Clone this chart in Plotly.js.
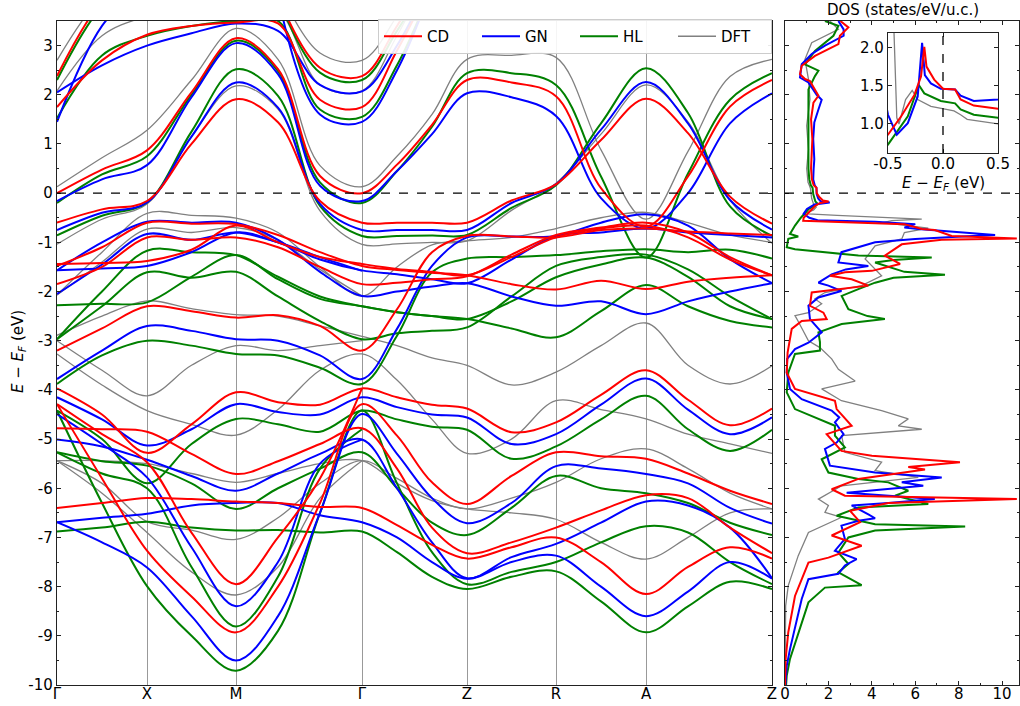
<!DOCTYPE html>
<html><head><meta charset="utf-8">
<script src="https://cdn.plot.ly/plotly-3.0.1.min.js"></script>
<style>html,body{margin:0;padding:0;background:#fff}#plot{width:1020px;height:706px}</style>
</head><body><div id="plot"></div>
<script>
// k-path sample positions and labels
const K = [0, 0.45, 0.90, 1.345, 1.79, 2.21, 2.63, 3.05, 3.40, 3.75, 4.10, 4.545, 4.99, 5.44, 5.89, 6.31, 6.73, 7.15];
const kTickVals = [0, 0.90, 1.79, 3.05, 4.10, 4.99, 5.89, 7.15];
const kTickText = ['Γ','X','M','Γ','Z','R','A','Z'];
const N = null;

// CD (red) bands
const CD_H1 = [2.38, 3.9, 4.6, N, N, 4.0, 2.55, 2.38, 3.4, 4.6, N, N, N, N, N, N, N, N];
const CD_H2 = [1.75, 2.7, 3.22, 3.4, 3.47, 3.45, 1.9, 1.75, 2.9, 4.3, N, N, N, N, N, N, N, N];
const CD_CB1 = [0.0, 0.48, 0.87, 2.05, 3.15, 2.52, 0.35, 0.0, 0.58, 1.39, 2.3, 2.25, 1.97, 0.1, -0.68, 0.34, 1.76, 2.3];
const CD_VB1 = [-0.6, -0.33, -0.16, 1.0, 1.91, 1.44, -0.16, -0.6, -0.6, -0.6, -0.6, -0.15, 0.18, 1.08, 1.92, 1.22, -0.07, -0.62];
const CD_V1 = [-1.44, -1.42, -1.38, -1.15, -0.66, -1.0, -1.3, -1.44, -1.54, -1.6, -1.67, -1.3, -0.9, -0.72, -0.66, -0.9, -1.35, -1.67];
const CD_V2 = [-1.48, -1.1, -0.6, -0.62, -0.63, -0.85, -1.2, -1.48, -1.56, -1.62, -1.67, -1.85, -1.96, -1.78, -1.95, -1.8, -1.72, -1.67];
const CD_V3 = [-1.85, -1.5, -0.9, -0.95, -0.9, -1.1, -1.5, -1.85, -1.82, -1.75, -1.69, -1.25, -0.85, -0.7, -0.6, -0.8, -1.3, -1.67];
const CD_V4 = [-3.2, -2.75, -2.3, -2.4, -2.53, -2.48, -2.7, -3.2, -2.36, -1.2, -0.87, -0.88, -0.9, -0.75, -0.72, -0.78, -0.82, -0.85];
const CD_V5 = [-3.97, -4.5, -5.28, -4.7, -4.05, -4.25, -4.3, -3.97, -4.15, -4.3, -4.38, -4.86, -4.66, -4.1, -3.6, -4.2, -4.72, -4.38];
const CD_V6 = [-4.78, -4.8, -4.85, -5.3, -5.71, -5.45, -5.1, -4.78, -5.6, -6.8, -7.32, -7.1, -6.8, -6.45, -6.14, -6.2, -6.8, -7.32];
const CD_V7 = [-4.29, -5.8, -7.27, -8.2, -8.93, -8.0, -6.3, -4.29, -4.93, -5.88, -6.32, -5.75, -5.27, -5.35, -5.4, -5.7, -6.05, -6.32];
const CD_V8 = [-6.4, -6.3, -6.2, -6.22, -6.27, -6.3, -6.38, -6.4, -6.75, -7.15, -7.43, -7.2, -7.0, -7.5, -8.15, -7.6, -7.2, -7.43];
const CD_V9 = [-4.29, -4.9, -5.47, -6.9, -7.95, -7.0, -5.8, -3.97, N, N, N, N, N, N, N, N, N, N];

// GN (blue) bands
const GN_H1 = [1.45, 3.4, 4.3, N, N, 4.0, 1.6, 1.45, 2.5, 4.2, N, N, N, N, N, N, N, N];
const GN_H2 = [2.05, 2.6, 3.0, 3.25, 3.45, 3.3, 2.2, 2.07, 3.0, 4.4, N, N, N, N, N, N, N, N];
const GN_CB1 = [-0.16, 0.28, 0.57, 1.95, 3.05, 2.42, 0.15, -0.16, 0.45, 1.2, 2.03, 1.95, 1.57, -0.1, -0.72, 0.0, 1.42, 2.03];
const GN_VB1 = [-0.75, -0.4, -0.19, 1.15, 2.25, 1.74, -0.22, -0.75, -0.75, -0.75, -0.75, -0.2, 0.18, 1.29, 2.26, 1.42, -0.14, -0.74];
const GN_V1 = [-1.57, -1.53, -1.48, -1.2, -0.8, -1.0, -1.35, -1.57, -1.65, -1.75, -1.83, -1.35, -0.87, -0.8, -0.72, -0.8, -0.85, -0.9];
const GN_V2 = [-1.57, -1.0, -0.58, -0.6, -0.6, -0.95, -1.6, -2.09, -2.0, -1.9, -1.83, -2.1, -2.29, -2.2, -2.46, -2.2, -2.0, -1.83];
const GN_V3 = [-2.05, -1.45, -0.83, -0.95, -0.8, -1.0, -1.3, -1.58, N, N, N, N, N, N, N, N, N, N];
const GN_V4 = [-3.78, -3.2, -2.7, -2.8, -2.97, -3.0, -3.3, -3.78, -2.76, -1.48, -0.9, -0.88, -0.87, -0.6, -0.43, -0.66, -1.34, -1.83];
const GN_V5 = [-4.15, -4.6, -5.13, -4.8, -4.29, -4.45, -4.5, -4.15, -4.35, -4.5, -4.56, -5.1, -4.9, -4.3, -3.77, -4.4, -4.9, -4.56];
const GN_V6 = [-5.01, -5.15, -5.42, -5.75, -6.05, -5.7, -5.3, -5.01, -6.0, -7.1, -7.83, -7.4, -7.13, -6.7, -6.27, -6.35, -6.8, -7.83];
const GN_V7 = [-6.69, -6.6, -6.52, -6.35, -6.3, -6.3, -6.55, -6.69, -7.0, -7.5, -7.84, -7.5, -7.37, -8.0, -8.6, -8.1, -7.5, -7.84];
const GN_V8 = [-6.69, -7.1, -7.61, -8.6, -9.5, -8.6, -6.5, -4.49, -5.3, -6.2, -6.71, -6.3, -5.55, -5.6, -5.71, -5.9, -6.4, -6.72];
const GN_V9 = [-4.49, -5.1, -5.78, -7.2, -8.4, -7.5, -5.5, -5.01, N, N, N, N, N, N, N, N, N, N];

// HL (green) bands
const HL_H1 = [2.3, 3.8, 4.5, N, N, 4.0, 2.45, 2.3, 3.3, 4.5, N, N, N, N, N, N, N, N];
const HL_H2 = [1.52, 2.8, 3.2, 3.4, 3.5, 3.5, 1.7, 1.55, 2.6, 4.2, N, N, N, N, N, N, N, N];
const HL_CB1 = [-0.2, 0.38, 0.75, 2.0, 3.1, 2.48, 0.22, -0.2, 0.45, 1.35, 2.44, 2.44, 2.2, 0.34, -1.31, 0.4, 1.9, 2.44];
const HL_VB1 = [-0.86, -0.46, -0.19, 1.25, 2.52, 1.98, -0.26, -0.87, -0.87, -0.86, -0.85, -0.3, 0.16, 1.42, 2.54, 1.63, -0.27, -0.87];
const HL_V1 = [-2.97, -2.0, -1.17, -1.2, -1.26, -1.7, -2.1, -2.3, -2.42, -2.5, -2.56, -2.75, -2.93, -2.4, -1.87, -2.3, -2.6, -2.73];
const HL_V2 = [-2.97, -2.3, -1.61, -1.72, -1.6, -2.1, -2.6, -2.97, -2.85, -2.8, -2.73, -2.1, -1.48, -1.3, -1.25, -1.55, -2.1, -2.56];
const HL_V3 = [-2.28, -2.25, -2.22, -1.7, -1.26, -1.75, -2.15, -2.3, -2.42, -2.5, -2.56, -2.2, -1.71, -1.45, -1.31, -1.7, -2.3, -2.56];
const HL_V4 = [-3.88, -3.3, -3.0, -3.1, -3.27, -3.3, -3.55, -3.88, -2.9, -1.61, -1.33, -1.3, -1.26, -1.18, -1.14, -1.2, -1.15, -1.33];
const HL_V5 = [-4.42, -5.0, -5.9, -5.1, -4.59, -4.7, -4.85, -4.42, -4.6, -4.75, -4.81, -5.4, -5.15, -4.6, -4.12, -4.8, -5.24, -4.81];
const HL_V6 = [-5.27, -5.45, -5.54, -5.9, -6.42, -6.0, -5.6, -5.27, -6.0, -6.7, -6.95, -6.4, -5.75, -6.0, -6.1, -6.3, -6.7, -6.95];
const HL_V7 = [-6.88, -6.8, -6.68, -6.8, -6.86, -6.85, -6.9, -6.88, -7.3, -7.8, -8.05, -7.8, -7.69, -8.3, -8.93, -8.4, -7.9, -8.05];
const HL_V8 = [-4.42, -6.3, -7.99, -9.0, -9.71, -8.9, -6.5, -4.42, -5.9, -7.3, -7.95, -7.7, -7.5, -7.1, -6.77, -6.9, -7.5, -7.95];
const HL_V9 = [-5.27, -5.7, -6.0, -7.6, -8.81, -7.8, -5.6, -4.8, N, N, N, N, N, N, N, N, N, N];

// DFT (gray) bands
const DFT_H1 = [2.7, 4.0, 4.6, N, N, 4.2, 2.85, 2.7, 3.6, 4.8, N, N, N, N, N, N, N, N];
const DFT_H2 = [2.08, 3.2, 3.6, 3.8, 3.8, 3.7, 2.2, 2.08, 3.2, 4.6, N, N, N, N, N, N, N, N];
const DFT_CB1 = [0.13, 0.72, 1.28, 2.3, 3.35, 2.72, 0.56, 0.13, 0.75, 1.6, 2.72, 2.8, 2.76, 0.88, -0.53, 0.85, 2.37, 2.72];
const DFT_VB1 = [-1.04, -0.53, -0.22, 1.15, 2.18, 1.71, -0.36, -1.04, -1.03, -1.0, -0.97, -0.35, 0.2, 1.2, 2.2, 1.45, -0.14, -1.02];
const DFT_V1 = [-2.07, -1.2, -0.41, -0.45, -0.51, -0.8, -1.5, -2.09, -1.5, -1.05, -0.97, -0.9, -0.72, -0.5, -0.39, -0.6, -0.85, -1.0];
const DFT_V2 = [-2.07, -1.4, -0.73, -0.8, -0.7, -0.95, -1.55, -2.09, N, N, N, N, N, N, N, N, N, N];
const DFT_V3 = [-2.89, -2.5, -2.19, -2.35, -2.47, -2.5, -2.7, -2.91, -3.1, -3.35, -3.5, -3.9, -3.64, -3.1, -2.64, -3.5, -3.88, -3.51];
const DFT_V4 = [-3.0, -3.6, -4.12, -3.5, -3.1, -3.2, -3.1, -3.0, N, N, N, N, N, N, N, N, N, N];
const DFT_V5 = [-3.27, -3.9, -4.42, -4.7, -4.92, -4.4, -3.6, -3.27, -3.8, -4.6, -5.29, -5.0, -4.22, -4.4, -4.59, -4.9, -5.1, -5.29];
const DFT_V6 = [-5.44, -5.9, -6.68, -6.85, -7.04, -6.6, -5.9, -5.44, -5.8, -6.2, -6.42, -6.2, -5.88, -5.4, -5.2, -5.6, -6.1, -6.42];
const DFT_V7 = [-5.44, -5.44, -5.5, -5.7, -5.88, -5.7, -5.5, -5.44, -5.9, -6.25, -6.42, -6.5, -6.63, -7.1, -7.44, -7.0, -6.5, -6.42];
const DFT_V8 = [-5.44, -6.1, -6.9, -7.7, -8.17, -7.6, -6.2, -5.44, N, N, N, N, N, N, N, N, N, N];

// DOS data: energies (eV) and densities (states/eV/u.c.)
const DOS_CD_E = [3.5, 3.37, 3.2, 3.03, 2.79, 2.59, 2.42, 2.32, 2.28, 1.98, 1.84, 1.5, 1.1, 0.69, 0.5, 0.28, 0.16, 0.11, 0.0, -0.08, -0.15, -0.17, -0.2, -0.26, -0.38, -0.5, -0.56, -0.6, -0.63, -0.73, -0.75, -0.87, -0.92, -0.95, -1.04, -1.27, -1.44, -1.58, -1.61, -1.68, -1.75, -1.88, -1.95, -2.02, -2.29, -2.43, -2.56, -2.6, -2.76, -3.24, -3.65, -3.98, -4.22, -4.39, -4.73, -4.9, -5.24, -5.34, -5.47, -5.57, -5.62, -5.81, -6.02, -6.15, -6.22, -6.3, -6.46, -6.69, -6.96, -7.17, -7.41, -7.51, -8.19, -8.93, -9.47, -10];
const DOS_CD = [2.55, 2.92, 2.53, 2.46, 1.38, 0.77, 0.69, 0.92, 1.15, 1.54, 1.31, 1.2, 1.26, 1.23, 1.2, 1.24, 1.32, 1.45, 1.46, 1.58, 1.75, 2.01, 1.62, 1.38, 1.1, 0.86, 0.84, 4.15, 5.5, 6.3, 6.9, 7.68, 10.68, 7.22, 5.38, 4.6, 5.3, 4.0, 2.76, 2.07, 3.07, 3.84, 2.6, 1.23, 1.15, 1.77, 1.92, 0.77, 0.31, 0.12, 0.08, 0.46, 2.3, 2.38, 3.07, 1.92, 2.6, 4.0, 8.06, 5.68, 6.45, 3.38, 2.15, 2.76, 10.68, 4.76, 3.0, 3.46, 2.15, 3.53, 2.0, 1.08, 0.46, 0.15, 0.03, 0.0];
const DOS_GN_E = [3.5, 3.33, 3.2, 3.0, 2.83, 2.62, 2.35, 2.25, 2.0, 1.9, 1.7, 1.44, 1.1, 0.69, 0.5, 0.28, 0.16, 0.11, -0.02, -0.11, -0.165, -0.19, -0.23, -0.32, -0.42, -0.5, -0.55, -0.58, -0.63, -0.7, -0.73, -0.85, -0.88, -0.93, -1.0, -1.2, -1.41, -1.48, -1.55, -1.65, -1.82, -1.88, -1.99, -2.12, -2.29, -2.56, -2.83, -3.04, -3.17, -3.37, -3.65, -3.98, -4.19, -4.42, -4.56, -4.66, -4.9, -5.07, -5.2, -5.54, -5.68, -5.78, -5.88, -5.95, -6.09, -6.22, -6.3, -6.35, -6.53, -6.61, -6.66, -6.76, -7.03, -7.27, -7.44, -7.57, -7.74, -7.85, -8.25, -8.8, -9.27, -9.61, -10];
const DOS_GN = [2.46, 2.7, 2.7, 1.84, 1.23, 0.77, 0.69, 1.08, 1.46, 1.69, 1.54, 1.35, 1.3, 1.35, 1.32, 1.3, 1.37, 1.45, 1.46, 1.53, 1.64, 2.06, 1.36, 1.01, 0.86, 1.12, 1.5, 4.15, 6.0, 5.5, 6.14, 9.68, 8.14, 6.0, 4.15, 2.6, 2.46, 3.84, 2.8, 2.15, 1.54, 2.0, 2.6, 1.54, 1.08, 1.15, 1.69, 1.08, 0.46, 0.1, 0.08, 0.23, 0.77, 2.15, 2.5, 2.3, 2.7, 2.38, 1.84, 2.07, 4.15, 7.22, 5.38, 6.37, 2.84, 6.9, 4.76, 3.07, 3.84, 4.15, 3.38, 2.6, 2.76, 2.3, 3.3, 2.76, 2.46, 1.08, 0.77, 0.46, 0.23, 0.08, 0.02];
const DOS_HL_E = [3.5, 3.4, 3.2, 2.89, 2.62, 2.49, 2.38, 2.11, 1.57, 1.1, 0.69, 0.5, 0.28, 0.16, 0.11, -0.02, -0.17, -0.22, -0.32, -0.5, -0.66, -0.83, -0.88, -0.93, -1.1, -1.14, -1.27, -1.31, -1.36, -1.41, -1.6, -1.66, -1.72, -1.82, -1.95, -2.09, -2.36, -2.5, -2.56, -2.62, -2.66, -2.83, -2.97, -3.03, -3.2, -3.27, -3.65, -4.05, -4.39, -4.73, -4.93, -5.17, -5.41, -5.68, -5.81, -5.88, -6.05, -6.15, -6.32, -6.39, -6.56, -6.73, -6.78, -6.86, -7.0, -7.31, -7.54, -7.71, -7.97, -8.02, -8.32, -8.93, -9.47, -9.81, -10];
const DOS_HL = [1.84, 2.46, 2.23, 1.38, 0.92, 1.54, 1.38, 1.08, 1.08, 1.08, 1.1, 1.08, 1.12, 1.19, 1.27, 1.3, 1.4, 1.51, 1.1, 0.73, 0.46, 0.23, 0.61, 0.15, 0.08, 0.46, 3.38, 6.76, 5.0, 4.15, 5.5, 7.37, 5.0, 4.15, 3.38, 2.61, 2.92, 3.8, 4.6, 3.2, 2.61, 1.54, 1.61, 1.61, 1.61, 0.46, 0.15, 0.08, 0.46, 2.3, 2.3, 2.76, 1.69, 2.0, 3.38, 4.76, 5.68, 5.07, 6.6, 3.38, 2.38, 4.15, 8.3, 4.15, 2.92, 2.46, 2.92, 2.46, 3.53, 1.84, 1.08, 0.61, 0.23, 0.08, 0.05];
const DOS_DFT_E = [3.5, 3.33, 3.06, 2.72, 2.32, 1.91, 1.37, 0.89, 0.5, 0.22, 0.16, 0.1, -0.11, -0.23, -0.28, -0.34, -0.4, -0.42, -0.45, -0.5, -0.53, -0.56, -0.6, -0.71, -0.8, -0.93, -1.07, -1.34, -1.48, -1.68, -1.88, -2.02, -2.15, -2.25, -2.43, -2.49, -2.6, -3.0, -3.14, -3.37, -3.58, -3.82, -3.98, -4.22, -4.42, -4.59, -4.73, -4.8, -4.93, -5.27, -5.47, -5.64, -5.78, -5.95, -6.22, -6.35, -6.49, -6.59, -6.9, -7.37, -7.98, -8.39, -10];
const DOS_DFT = [2.07, 2.46, 1.23, 0.92, 1.08, 1.15, 1.0, 1.08, 1.0, 1.06, 1.12, 1.17, 1.23, 1.32, 1.44, 1.32, 1.0, 1.08, 2.4, 5.0, 6.3, 4.92, 4.5, 6.6, 5.5, 5.38, 4.15, 3.69, 4.0, 4.45, 3.53, 1.84, 1.38, 1.69, 1.08, 0.46, 0.6, 1.08, 1.61, 2.15, 2.46, 3.23, 1.69, 2.6, 4.45, 5.68, 5.22, 6.3, 2.61, 2.76, 4.45, 4.15, 6.14, 2.61, 1.54, 2.0, 1.84, 2.61, 1.08, 0.61, 0.15, 0.03, 0.0];

const yTickVals = [-10,-9,-8,-7,-6,-5,-4,-3,-2,-1,0,1,2,3];
const yTickText = ['-10','-9','-8','-7','-6','-5','-4','-3','-2','-1','0','1','2','3'];
const dosTickVals = [0,2,4,6,8,10];
const insetXTicks = [-0.5, 0, 0.5];
const insetXText = ['-0.5','0.0','0.5'];
const insetYTicks = [1.0, 1.5, 2.0];
const insetYText = ['1.0','1.5','2.0'];

const methods = [
  {name:'DFT', color:'#808080', w:1.3, rank:4, bands:[DFT_H1,DFT_H2,DFT_CB1,DFT_VB1,DFT_V1,DFT_V2,DFT_V3,DFT_V4,DFT_V5,DFT_V6,DFT_V7,DFT_V8], dE:DOS_DFT_E, d:DOS_DFT},
  {name:'HL', color:'#008000', w:2, rank:3, bands:[HL_H1,HL_H2,HL_CB1,HL_VB1,HL_V1,HL_V2,HL_V3,HL_V4,HL_V5,HL_V6,HL_V7,HL_V8,HL_V9], dE:DOS_HL_E, d:DOS_HL},
  {name:'GN', color:'#0000ff', w:2, rank:2, bands:[GN_H1,GN_H2,GN_CB1,GN_VB1,GN_V1,GN_V2,GN_V3,GN_V4,GN_V5,GN_V6,GN_V7,GN_V8,GN_V9], dE:DOS_GN_E, d:DOS_GN},
  {name:'CD', color:'#ff0000', w:2, rank:1, bands:[CD_H1,CD_H2,CD_CB1,CD_VB1,CD_V1,CD_V2,CD_V3,CD_V4,CD_V5,CD_V6,CD_V7,CD_V8,CD_V9], dE:DOS_CD_E, d:DOS_CD}
];

const traces = [];
methods.forEach(m => {
  m.bands.forEach((b, i) => {
    traces.push({type:'scatter', mode:'lines', x:K, y:b, xaxis:'x', yaxis:'y',
      line:{color:m.color, width:m.w, shape:'spline', smoothing:1.0},
      name:m.name, legendgroup:m.name, showlegend:i===0, legendrank:m.rank,
      hoverinfo:'skip', connectgaps:false});
  });
});
methods.forEach(m => {
  traces.push({type:'scatter', mode:'lines', x:m.d, y:m.dE, xaxis:'x2', yaxis:'y2',
    line:{color:m.color, width:m.w}, showlegend:false, hoverinfo:'skip'});
});
methods.forEach(m => {
  traces.push({type:'scatter', mode:'lines', x:m.dE, y:m.d, xaxis:'x3', yaxis:'y3',
    line:{color:m.color, width:m.w}, showlegend:false, hoverinfo:'skip'});
});

const W = 1020, H = 706;
const fx = p => p / W, fy = p => 1 - p / H;
const axFont = {family:'DejaVu Sans, sans-serif', size:15, color:'#000'};
const lineCol = '#222';

const layout = {
  width: W, height: H,
  margin:{l:0, r:0, t:0, b:0},
  paper_bgcolor:'#fff', plot_bgcolor:'#fff',
  font: axFont,
  showlegend: true,
  legend:{orientation:'h', x:fx(772), xanchor:'right', y:fy(19), yanchor:'top',
    bgcolor:'rgba(255,255,255,0.9)', bordercolor:'#cccccc', borderwidth:1,
    font:{family:'DejaVu Sans, sans-serif', size:15}, entrywidth:45, entrywidthmode:'pixels',
    traceorder:'normal', itemwidth:38},
  xaxis:{domain:[fx(57), fx(772)], range:[0, 7.15], tickvals:kTickVals, ticktext:kTickText,
    showgrid:true, gridcolor:'#999999', gridwidth:1, ticks:'', showline:true, mirror:true,
    linecolor:lineCol, linewidth:1.2, zeroline:false, tickfont:axFont, anchor:'y',
    ticklabelstandoff:-5},
  yaxis:{domain:[fy(685), fy(21)], range:[-10, 3.5], tickvals:yTickVals, ticktext:yTickText,
    ticks:'inside', ticklen:4, tickcolor:lineCol, showline:true, mirror:'ticks', linecolor:lineCol,
    linewidth:1.2, showgrid:false, zeroline:false, tickfont:axFont, anchor:'x',
    minor:{dtick:0.5, ticks:'inside', ticklen:2, tickcolor:lineCol, showgrid:false}},
  xaxis2:{domain:[fx(785), fx(1019)], range:[0, 10.78], tickvals:dosTickVals,
    ticktext:dosTickVals.map(String), ticks:'inside', ticklen:4, tickcolor:lineCol,
    showline:true, mirror:'ticks', linecolor:lineCol, linewidth:1.2, showgrid:false, zeroline:false,
    tickfont:axFont, anchor:'y2', ticklabelstandoff:-5,
    minor:{dtick:1, ticks:'inside', ticklen:2, tickcolor:lineCol}},
  yaxis2:{domain:[fy(685), fy(21)], range:[-10, 3.5], matches:'y', tickvals:yTickVals,
    showticklabels:false, ticks:'inside', ticklen:4, tickcolor:lineCol, showline:true, mirror:'ticks',
    linecolor:lineCol, linewidth:1.2, showgrid:false, zeroline:false, anchor:'x2',
    minor:{dtick:0.5, ticks:'inside', ticklen:2, tickcolor:lineCol}},
  xaxis3:{domain:[fx(888), fx(998)], range:[-0.5, 0.5], tickvals:insetXTicks, ticktext:insetXText,
    ticks:'inside', ticklen:4, tickcolor:lineCol, showline:true, mirror:'ticks', linecolor:lineCol,
    linewidth:1.2, showgrid:false, zeroline:false, tickfont:axFont, anchor:'y3', ticklabelstandoff:-3},
  yaxis3:{domain:[fy(153), fy(33)], range:[0.62, 2.19], tickvals:insetYTicks, ticktext:insetYText,
    ticks:'inside', ticklen:4, tickcolor:lineCol, showline:true, mirror:'ticks', linecolor:lineCol,
    linewidth:1.2, showgrid:false, zeroline:false, tickfont:axFont, anchor:'x3'},
  shapes:[
    {type:'line', xref:'x', yref:'y', x0:0, x1:7.15, y0:0, y1:0, line:{color:'#000', width:1.3, dash:'dash'}},
    {type:'line', xref:'x2', yref:'y2', x0:0, x1:10.78, y0:0, y1:0, line:{color:'#000', width:1.3, dash:'dash'}},
    {type:'line', xref:'x3', yref:'y3', x0:0, x1:0, y0:0.62, y1:2.19, line:{color:'#000', width:1.3, dash:'dash'}}
  ],
  annotations:[
    {text:'<i>E</i> − <i>E</i><sub><i>F</i></sub> (eV)', xref:'paper', yref:'paper', x:fx(19), y:fy(352),
      textangle:-90, showarrow:false, font:axFont, xanchor:'center', yanchor:'middle'},
    {text:'DOS (states/eV/u.c.)', xref:'paper', yref:'paper', x:fx(903), y:fy(10),
      showarrow:false, font:axFont, xanchor:'center', yanchor:'middle'},
    {text:'<i>E</i> − <i>E</i><sub><i>F</i></sub> (eV)', xref:'paper', yref:'paper', x:fx(943), y:fy(184),
      showarrow:false, font:axFont, xanchor:'center', yanchor:'middle'}
  ]
};

Plotly.newPlot('plot', traces, layout, {staticPlot:true, displayModeBar:false});
</script></body></html>
